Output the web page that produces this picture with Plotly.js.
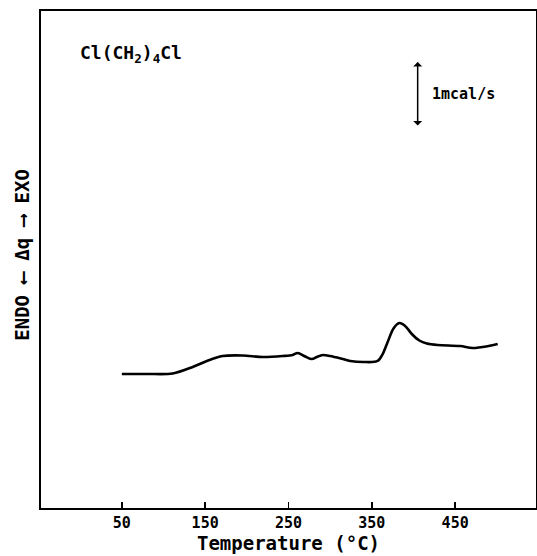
<!DOCTYPE html>
<html>
<head>
<meta charset="utf-8">
<script src="https://cdn.plot.ly/plotly-3.0.1.min.js"></script>
<style>html,body{margin:0;padding:0;background:#fff;}#chart{width:537px;height:556px;}</style>
</head>
<body>
<div id="chart"></div>
<script>
// Temperature (°C)
const temperature = [50, 80, 111, 135, 152, 171, 195, 219, 243, 255, 261, 270, 278, 284, 291, 300, 315, 324, 340, 357, 363, 369, 376, 383, 390, 398, 407, 416, 429, 456, 471, 490, 501];
// Heat flow Δq (mcal/s, arbitrary offset)
const heatFlow = [2.062, 2.062, 2.069, 2.169, 2.262, 2.338, 2.346, 2.323, 2.338, 2.354, 2.385, 2.331, 2.292, 2.323, 2.354, 2.338, 2.292, 2.262, 2.246, 2.262, 2.369, 2.554, 2.762, 2.846, 2.8, 2.677, 2.577, 2.531, 2.508, 2.492, 2.462, 2.492, 2.523];
const tickValues = [50, 150, 250, 350, 450];
const tickLabels = ["50", "150", "250", "350", "450"];
const scaleBarT = 405;
const scaleBarY = [5.862, 6.862];

const font = "DejaVu Sans Mono, monospace";

const data = [{
  x: temperature,
  y: heatFlow,
  type: 'scatter',
  mode: 'lines',
  line: {color: '#000', width: 2.6, shape: 'spline', smoothing: 0.9},
  hoverinfo: 'skip'
}];

const layout = {
  width: 537, height: 556,
  margin: {l: 41, r: 1, t: 11, b: 48},
  paper_bgcolor: '#fff', plot_bgcolor: '#fff',
  showlegend: false,
  xaxis: {
    range: [-47, 547],
    tickmode: 'array', tickvals: tickValues, ticktext: tickLabels,
    ticks: 'inside', ticklen: 6, tickwidth: 1.5, tickcolor: '#000',
    showline: true, mirror: true, linecolor: '#000', linewidth: 2,
    showgrid: false, zeroline: false,
    tickfont: {family: font, size: 15, color: '#000', weight: 'bold'},
    title: {text: 'Temperature (°C)', standoff: 4, font: {family: font, size: 19, color: '#000', weight: 'bold'}}
  },
  yaxis: {
    range: [0, 7.646],
    showticklabels: false, ticks: '',
    showline: true, mirror: true, linecolor: '#000', linewidth: 2,
    showgrid: false, zeroline: false
  },
  annotations: [
    {
      xref: 'paper', yref: 'paper', x: -0.04, y: 0.51,
      text: 'ENDO ⟵ Δq ⟶ EXO', textangle: -90, showarrow: false,
      xanchor: 'center', yanchor: 'middle',
      font: {family: font, size: 19, color: '#000', weight: 'bold'}
    },
    {
      xref: 'x', yref: 'y', x: -3, y: 6.98,
      text: 'Cl(CH<sub>2</sub>)<sub>4</sub>Cl', showarrow: false,
      xanchor: 'left', yanchor: 'middle',
      font: {family: font, size: 18, color: '#000', weight: 'bold'}
    },
    {
      xref: 'x', yref: 'y', axref: 'x', ayref: 'y',
      x: scaleBarT, y: scaleBarY[1], ax: scaleBarT, ay: scaleBarY[0],
      text: '', showarrow: true, arrowside: 'end+start',
      arrowhead: 1, arrowsize: 1, arrowwidth: 1.5, arrowcolor: '#000'
    },
    {
      xref: 'x', yref: 'y', x: 420, y: (scaleBarY[0] + scaleBarY[1]) / 2,
      text: '1mcal/s', showarrow: false,
      xanchor: 'left', yanchor: 'middle',
      font: {family: font, size: 15, color: '#000', weight: 'bold'}
    }
  ]
};

Plotly.newPlot('chart', data, layout, {staticPlot: true, displayModeBar: false});
</script>
</body>
</html>
